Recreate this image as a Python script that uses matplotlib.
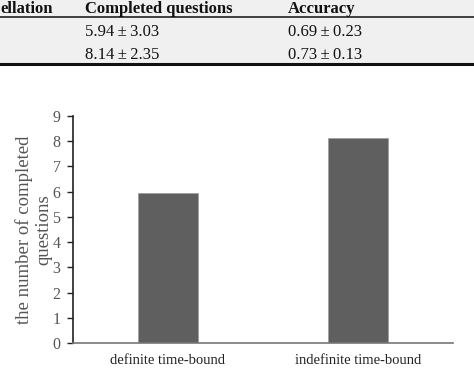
import numpy as np
import matplotlib.pyplot as plt
from matplotlib.patches import Rectangle
from matplotlib.lines import Line2D

# table data (top strip of the page)
table_header = ['ellation', 'Completed questions', 'Accuracy']
completed = ['5.94\u2009\u00b1\u20093.03', '8.14\u2009\u00b1\u20092.35']
accuracy = ['0.69\u2009\u00b1\u20090.23', '0.73\u2009\u00b1\u20090.13']

# bar chart data
conditions = ['definite time-bound', 'indefinite time-bound']
n_completed = [5.94, 8.14]
yticks = list(range(0, 10))

plt.rcParams['font.family'] = ['Liberation Serif', 'DejaVu Serif']

W, H = 474, 370
fig = plt.figure(figsize=(W / 100, H / 100), dpi=100)

def fx(x):
    return x / W

def fy(y):
    return 1 - y / H

# gray table background
fig.patches.append(Rectangle((0, fy(63)), 1, 63 / H, transform=fig.transFigure,
                             facecolor='#f0f0f0', edgecolor='none', zorder=0))
fig.lines.append(Line2D([0, 1], [fy(17), fy(17)], transform=fig.transFigure,
                        color='#222222', lw=1.2))
fig.lines.append(Line2D([0, 1], [fy(64), fy(64)], transform=fig.transFigure,
                        color='#111111', lw=2.2))

col_x = [0, 85, 288]
for x, t in zip(col_x, table_header):
    fig.text(fx(x), fy(13), t, fontsize=12, fontweight='bold',
             va='baseline', ha='left', color='#111111')
for i, y in enumerate([36, 59]):
    fig.text(fx(col_x[1]), fy(y), completed[i], fontsize=12,
             va='baseline', ha='left', color='#111111')
    fig.text(fx(col_x[2]), fy(y), accuracy[i], fontsize=12,
             va='baseline', ha='left', color='#111111')

# bar chart
ax = fig.add_axes([fx(73), fy(343), 380 / W, 227 / H])
x = np.arange(len(conditions))
ax.bar(x, n_completed, width=0.32, color='#5f5f5f', edgecolor='#a0a0a0', linewidth=0.6)
ax.set_xlim(-0.5, 1.5)
ax.set_ylim(0, 9)
ax.set_yticks(yticks)
ax.set_xticks(x)
ax.set_xticklabels(conditions, fontsize=10.5, color='#222222')
ax.tick_params(axis='y', direction='out', length=4, width=1, color='#222222',
               labelsize=11.5, labelcolor='#555555', pad=5)
ax.tick_params(axis='x', length=0, pad=8)
for s in ['top', 'right']:
    ax.spines[s].set_visible(False)
ax.spines['left'].set_color('#222222')
ax.spines['left'].set_linewidth(1.2)
ax.spines['bottom'].set_color('#777777')
ax.spines['bottom'].set_linewidth(1.2)
ax.set_ylabel('the number of completed\nquestions', fontsize=13.5, color='#555555',
              linespacing=1.25)
ax.yaxis.set_label_coords(-0.053, 0.5)

fig.savefig('out.png', dpi=100)
